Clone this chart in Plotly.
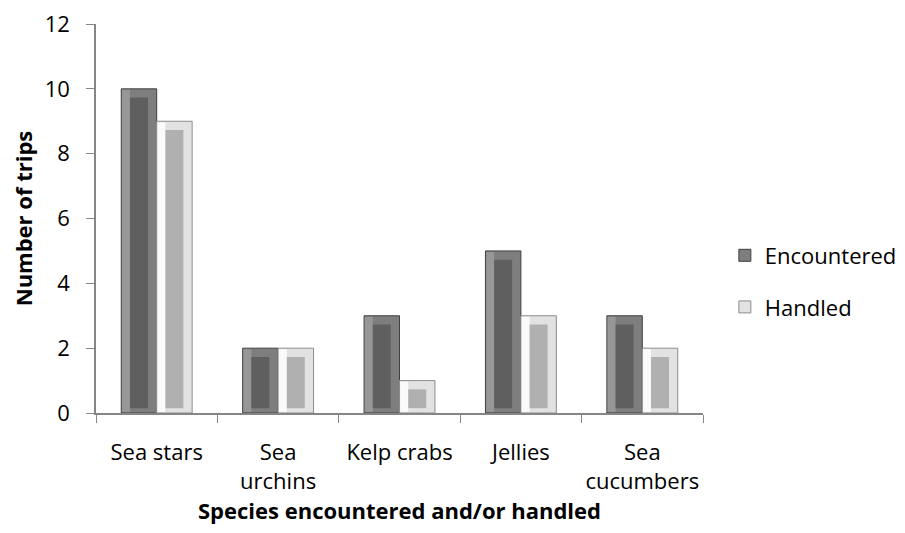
import plotly.graph_objects as go

categories = ["Sea stars", "Sea<br>urchins", "Kelp crabs", "Jellies", "Sea<br>cucumbers"]
encountered = [10, 2, 3, 5, 3]
handled = [9, 2, 1, 3, 2]

FONT = "Open Sans"
FS = 22
W = 0.292     # bar width in category units
INS_X = 0.072 # bevel inset (category units)
INS_TOP = 0.27
INS_BOT = 0.15

fig = go.Figure()

# Encountered outer
fig.add_trace(go.Bar(x=categories, y=encountered, name="Encountered", legendgroup="e",
                     offset=-W, width=W,
                     marker=dict(color="#7e7e7e", line=dict(color="#404040", width=1))))
# Encountered left bevel (lighter)
fig.add_trace(go.Bar(x=categories, y=[v - 0.06 for v in encountered], base=0.03,
                     offset=-W + 0.006, width=INS_X - 0.006,
                     marker=dict(color="#979797", line=dict(width=0)),
                     showlegend=False, hoverinfo="skip"))
# Encountered inner
fig.add_trace(go.Bar(x=categories, y=[v - INS_TOP - INS_BOT for v in encountered],
                     base=INS_BOT, offset=-W + INS_X, width=W - 2 * INS_X,
                     marker=dict(color="#5f5f5f", line=dict(width=0)),
                     showlegend=False, hoverinfo="skip"))
# Handled outer
fig.add_trace(go.Bar(x=categories, y=handled, name="Handled", legendgroup="h",
                     offset=0, width=W,
                     marker=dict(color="#e2e2e2", line=dict(color="#8c8c8c", width=1))))
# Handled left bevel (white)
fig.add_trace(go.Bar(x=categories, y=[v - 0.06 for v in handled], base=0.03,
                     offset=0.006, width=INS_X - 0.006,
                     marker=dict(color="#fafafa", line=dict(width=0)),
                     showlegend=False, hoverinfo="skip"))
# Handled inner
fig.add_trace(go.Bar(x=categories, y=[v - INS_TOP - INS_BOT for v in handled],
                     base=INS_BOT, offset=INS_X, width=W - 2 * INS_X,
                     marker=dict(color="#b0b0b0", line=dict(width=0)),
                     showlegend=False, hoverinfo="skip"))

fig.update_layout(
    width=897, height=525,
    barmode="overlay",
    paper_bgcolor="white", plot_bgcolor="white",
    margin=dict(l=88, r=202, t=16, b=120, autoexpand=False),
    font=dict(family=FONT, size=FS, color="black"),
    legend=dict(x=1.036, y=0.338, xanchor="left", yanchor="middle",
                font=dict(family=FONT, size=FS), tracegroupgap=20,
                itemwidth=30),
    xaxis=dict(showline=True, linecolor="#868686", linewidth=1.5,
               ticks="outside", tickson="boundaries", ticklen=8, tickcolor="#868686",
               ticklabelstandoff=19, tickangle=0,
               title=dict(text="<b>Species encountered and/or handled</b>",
                          font=dict(family=FONT, size=FS), standoff=0),
               showgrid=False, zeroline=False, automargin=False),
    yaxis=dict(range=[0, 12], dtick=2, showline=True, linecolor="#868686", linewidth=1.5,
               ticks="outside", ticklen=8, tickcolor="#868686",
               ticklabelstandoff=12, ticklabeloverflow="allow",
               title=dict(text="<b>Number of trips</b>",
                          font=dict(family=FONT, size=FS), standoff=12),
               showgrid=False, zeroline=False, automargin=False),
)

fig.write_html("out.html")
